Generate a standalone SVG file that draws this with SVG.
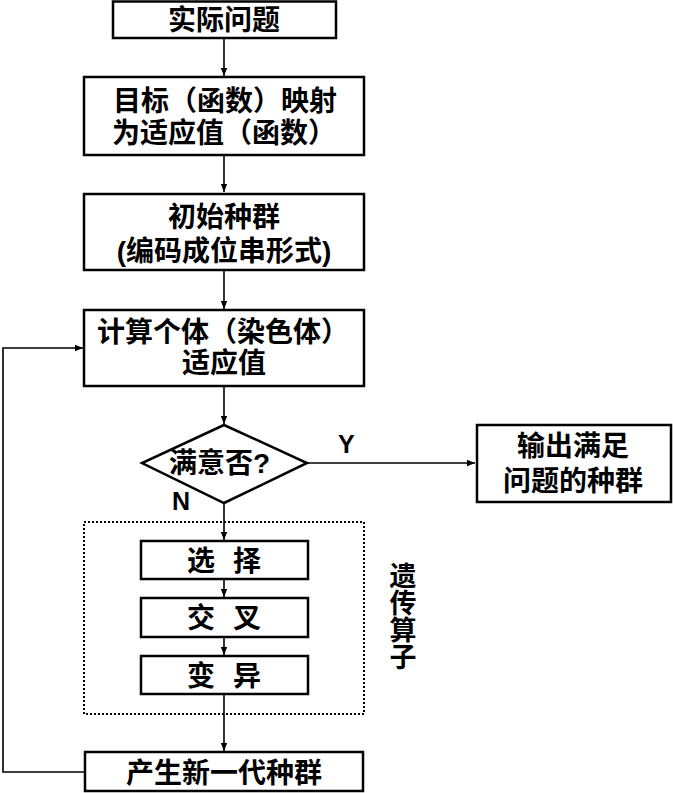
<svg xmlns="http://www.w3.org/2000/svg" width="673" height="793" viewBox="0 0 673 793">
<style>
.box{fill:#fff;stroke:#000;stroke-width:2.5}
.t{font-family:"Liberation Sans","Noto Sans CJK SC",sans-serif;font-weight:bold;font-size:28px;fill:#000;dominant-baseline:central}
.c{text-anchor:middle}
.ln{fill:none;stroke:#000;stroke-width:1.6}
</style>
<defs>
<marker id="ah" viewBox="0 0 10 10" refX="10" refY="5" markerWidth="8" markerHeight="8" markerUnits="userSpaceOnUse" orient="auto">
<path d="M0,1 L10,5 L0,9 Z" fill="#000"/>
</marker>
</defs>
<rect width="673" height="793" fill="#fff"/>
<g id="connectors">
<line class="ln" x1="224" y1="38" x2="224" y2="76" marker-end="url(#ah)"/>
<line class="ln" x1="224" y1="155" x2="224" y2="192" marker-end="url(#ah)"/>
<line class="ln" x1="224" y1="270" x2="224" y2="309" marker-end="url(#ah)"/>
<line class="ln" x1="224" y1="386" x2="224" y2="424" marker-end="url(#ah)"/>
<line class="ln" x1="307" y1="463" x2="475" y2="463" marker-end="url(#ah)"/>
<line class="ln" x1="224" y1="503" x2="224" y2="540" marker-end="url(#ah)"/>
<line class="ln" x1="224" y1="579" x2="224" y2="597" marker-end="url(#ah)"/>
<line class="ln" x1="224" y1="637" x2="224" y2="655" marker-end="url(#ah)"/>
<line class="ln" x1="224" y1="694" x2="224" y2="751" marker-end="url(#ah)"/>
<polyline class="ln" points="85,772 3,772 3,348 83,348" marker-end="url(#ah)"/>
<text class="t" x="338" y="444" style="font-size:25px">Y</text>
<text class="t" x="172" y="501" style="font-size:25px">N</text>
</g>
<g id="n1"><rect class="box" x="113" y="1.5" width="223" height="36.5"/><text class="t c" x="224" y="20">实际问题</text></g>
<g id="n2"><rect class="box" x="84" y="77" width="280" height="78"/><text class="t" x="113" y="101">目标（函数）映射</text><text class="t" x="112" y="133">为适应值（函数）</text></g>
<g id="n3"><rect class="box" x="84" y="194" width="280" height="76"/><text class="t c" x="224" y="217">初始种群</text><text class="t c" x="224" y="251">(编码成位串形式)</text></g>
<g id="n4"><rect class="box" x="84" y="310" width="280" height="76"/><text class="t" x="97" y="332">计算个体（染色体）</text><text class="t c" x="224" y="363">适应值</text></g>
<g id="n5"><polygon class="box" points="224,425 307,463 224,503 142,463"/><text class="t" x="169" y="463">满意否?</text></g>
<g id="n6"><rect class="box" x="477" y="425" width="194" height="77"/><text class="t c" x="573" y="446">输出满足</text><text class="t c" x="573" y="481">问题的种群</text></g>
<g id="group"><rect x="84" y="522" width="280" height="192" fill="none" stroke="#000" stroke-width="2" stroke-dasharray="2,2"/>
<text x="403" y="562" writing-mode="vertical-rl" style="font-family:'Noto Sans CJK SC',sans-serif;font-weight:bold;font-size:27px;fill:#000">遗传算子</text></g>
<g id="n7"><rect class="box" x="141" y="541" width="167" height="38"/><text class="t c" x="224" y="561" word-spacing="10">选 择</text></g>
<g id="n8"><rect class="box" x="141" y="598" width="167" height="39"/><text class="t c" x="224" y="618" word-spacing="10">交 叉</text></g>
<g id="n9"><rect class="box" x="141" y="656" width="167" height="38"/><text class="t c" x="224" y="676" word-spacing="10">变 异</text></g>
<g id="n10"><rect class="box" x="85" y="752" width="278" height="39"/><text class="t c" x="224" y="773">产生新一代种群</text></g>
</svg>
